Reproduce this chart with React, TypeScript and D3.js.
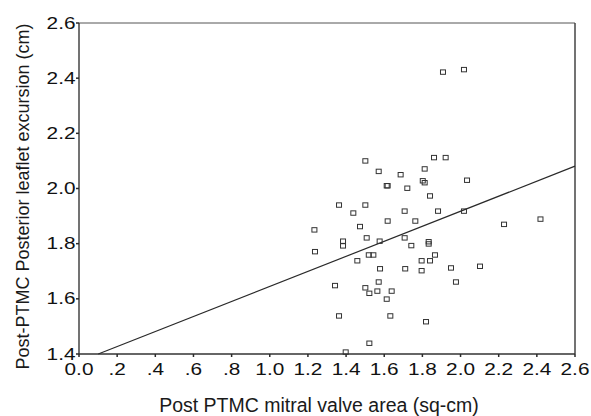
import React from "react";
import * as d3 from "d3";

// Post PTMC mitral valve area (sq-cm)
const areaValues: number[] = [
  1.234, 1.237, 1.342, 1.363, 1.363, 1.384, 1.384, 1.398, 1.438, 1.459,
  1.473, 1.501, 1.501, 1.508, 1.501, 1.519, 1.543, 1.522, 1.522, 1.571,
  1.571, 1.564, 1.576, 1.578, 1.613, 1.618, 1.618, 1.613, 1.632, 1.639,
  1.686, 1.707, 1.707, 1.710, 1.721, 1.742, 1.763, 1.796, 1.796, 1.802,
  1.812, 1.812, 1.819, 1.833, 1.833, 1.840, 1.840, 1.861, 1.866, 1.882,
  1.908, 1.922, 1.950, 1.976, 2.018, 2.018, 2.034, 2.102, 2.228, 2.419,
];
// Post-PTMC posterior leaflet excursion (cm)
const excursionValues: number[] = [
  1.850, 1.771, 1.648, 1.940, 1.538, 1.809, 1.792, 1.407, 1.911, 1.738,
  1.862, 2.100, 1.940, 1.821, 1.640, 1.759, 1.759, 1.620, 1.439, 2.062,
  1.661, 1.628, 1.809, 1.709, 2.010, 2.010, 1.882, 1.599, 1.538, 1.628,
  2.050, 1.918, 1.821, 1.709, 2.001, 1.793, 1.882, 1.738, 1.702, 2.028,
  2.021, 2.071, 1.517, 1.807, 1.799, 1.973, 1.738, 2.112, 1.759, 1.918,
  2.422, 2.112, 1.712, 1.661, 2.431, 1.918, 2.030, 1.718, 1.870, 1.889,
];

const xTickValues: number[] = [0, 0.2, 0.4, 0.6, 0.8, 1.0, 1.2, 1.4, 1.6, 1.8, 2.0, 2.2, 2.4, 2.6];
const xTickLabels: string[] = ["0.0", ".2", ".4", ".6", ".8", "1.0", "1.2", "1.4", "1.6", "1.8", "2.0", "2.2", "2.4", "2.6"];
const yTickValues: number[] = [1.4, 1.6, 1.8, 2.0, 2.2, 2.4, 2.6];
const yTickLabels: string[] = ["1.4", "1.6", "1.8", "2.0", "2.2", "2.4", "2.6"];

const fitIntercept = 1.3725;
const fitSlope = 0.2725;

const xTitle = "Post PTMC mitral valve area (sq-cm)";
const yTitle = "Post-PTMC Posterior leaflet excursion (cm)";

const FONT = "'Liberation Sans', Arial, Helvetica, sans-serif";

export default function App() {
  const W = 591;
  const H = 416;
  const left = 79;
  const right = 575;
  const top = 23;
  const bottom = 354;

  const x = d3.scaleLinear().domain([0, 2.6]).range([left, right]);
  const y = d3.scaleLinear().domain([1.4, 2.6]).range([bottom, top]);

  const xStart = (1.4 - fitIntercept) / fitSlope;
  const xEnd = 2.6;
  const fitLine = d3.line<number>()
    .x((d) => x(d))
    .y((d) => y(fitIntercept + fitSlope * d))([xStart, xEnd]);

  const ink = "#2a2a2a";
  const stretch = 1.3;

  return (
    <svg
      width={W}
      height={H}
      style={{ position: "absolute", left: 0, top: 0, background: "#fff" }}
      fontFamily={FONT}
    >
      {/* frame */}
      <line x1={left} y1={top} x2={right} y2={top} stroke="#555" strokeWidth={1} />
      <line x1={right} y1={top} x2={right} y2={bottom} stroke="#444" strokeWidth={1.5} />
      <line x1={left} y1={top} x2={left} y2={bottom} stroke="#444" strokeWidth={1.5} />
      <line x1={left} y1={bottom} x2={right} y2={bottom} stroke="#333" strokeWidth={1.5} />

      {/* y ticks */}
      {yTickValues.map((v, i) => (
        <g key={"yt" + i}>
          <line x1={left - 3} x2={left} y1={y(v)} y2={y(v)} stroke={ink} strokeWidth={1.5} />
          <text
            transform={`translate(${left - 3.5},${y(v) + 5.6}) scale(${stretch},1)`}
            textAnchor="end"
            fontSize={16}
            fill="#111"
          >
            {yTickLabels[i]}
          </text>
        </g>
      ))}

      {/* x ticks */}
      {xTickValues.map((v, i) => (
        <g key={"xt" + i}>
          <line x1={x(v)} x2={x(v)} y1={bottom} y2={bottom + 3} stroke={ink} strokeWidth={1.5} />
          <text
            transform={`translate(${x(v)},${bottom + 20.5}) scale(${stretch},1)`}
            textAnchor="middle"
            fontSize={16}
            fill="#111"
          >
            {xTickLabels[i]}
          </text>
        </g>
      ))}

      {/* fit line */}
      <path d={fitLine ?? ""} fill="none" stroke={ink} strokeWidth={1.2} />

      {/* points */}
      {areaValues.map((a, i) => (
        <rect
          key={"p" + i}
          x={x(a) - 2.5}
          y={y(excursionValues[i]) - 2.2}
          width={5}
          height={4.4}
          fill="none"
          stroke="#333"
          strokeWidth={1}
        />
      ))}

      {/* titles */}
      <text x={319} y={412} textAnchor="middle" fontSize={19.5} fill="#1a1a1a">
        {xTitle}
      </text>
      <text
        transform={`translate(28.5,196.5) rotate(-90)`}
        textAnchor="middle"
        fontSize={18}
        fill="#1a1a1a"
      >
        {yTitle}
      </text>
    </svg>
  );
}
